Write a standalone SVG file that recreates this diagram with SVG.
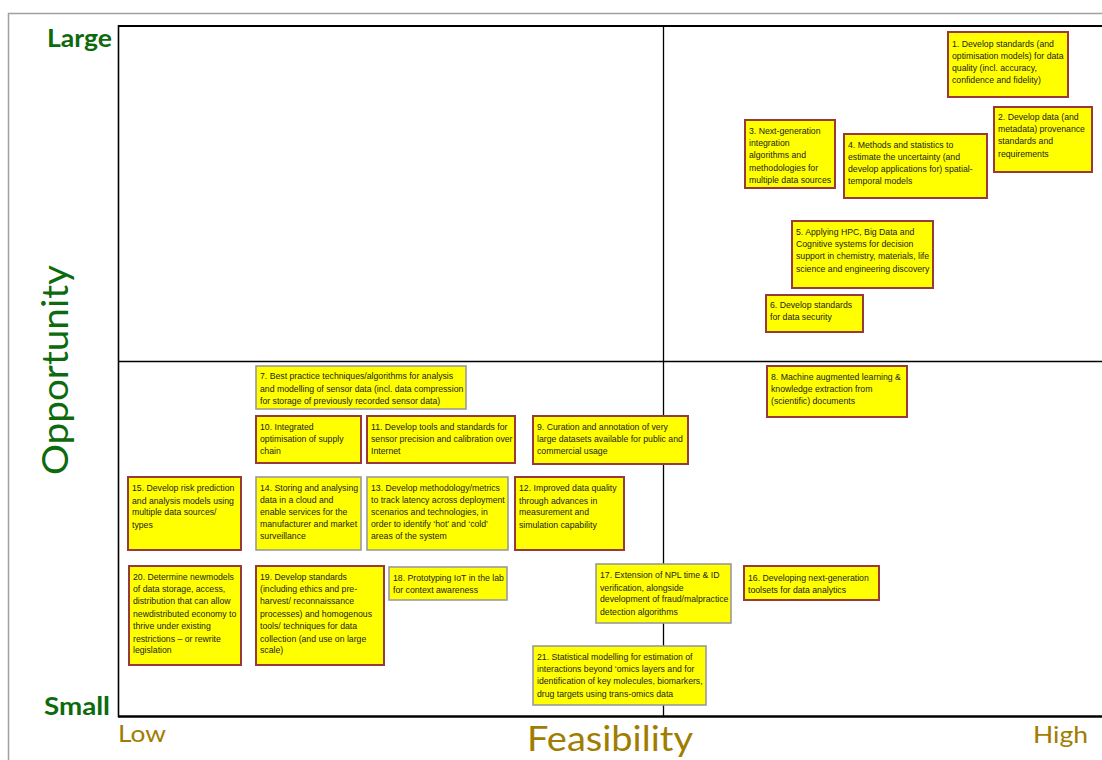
<svg xmlns="http://www.w3.org/2000/svg" width="1102" height="760" viewBox="0 0 1102 760">
<style>
.red{fill:#ffff00;stroke:#993939;stroke-width:2}
.gray{fill:#ffff00;stroke:#9a9a9a;stroke-width:1.6}
.t{font-family:"Liberation Sans",Arial,sans-serif;font-size:8.7px;fill:#222}
.ax{stroke:#000;fill:none}
.op{font-family:Lato,"Open Sans",sans-serif;fill:#0d6a0d}
.fe{font-family:Lato,"Open Sans",sans-serif;fill:#a07d00}
</style>
<rect width="1102" height="760" fill="#fff"/>
<g id="axes">
<path d="M8.5,760 V13.5 H1102" fill="none" stroke="#a0a0a0" stroke-width="1.5"/>
<path class="ax" d="M118,26 H1102" stroke-width="2"/>
<path class="ax" d="M118.5,25 V717" stroke-width="1.6"/>
<path class="ax" d="M118,716.5 H1102" stroke-width="2.5"/>
<path class="ax" d="M663.5,26 V716" stroke-width="1.3"/>
<path class="ax" d="M118,361.5 H1102" stroke-width="1.3"/>
<text class="op" x="47" y="47" font-size="24" font-weight="bold" textLength="65" lengthAdjust="spacingAndGlyphs">Large</text>
<text class="op" x="44" y="715" font-size="24" font-weight="bold" textLength="66" lengthAdjust="spacingAndGlyphs">Small</text>
<text class="op" transform="translate(68,370) rotate(-90)" text-anchor="middle" font-size="36" textLength="210" lengthAdjust="spacingAndGlyphs">Opportunity</text>
<text class="fe" x="118" y="742" font-size="24" textLength="48" lengthAdjust="spacingAndGlyphs">Low</text>
<text class="fe" x="527" y="751" font-size="35" textLength="166" lengthAdjust="spacingAndGlyphs">Feasibility</text>
<text class="fe" x="1033" y="743" font-size="24" textLength="55" lengthAdjust="spacingAndGlyphs">High</text>
</g>
<g id="connectors"></g>
<g id="n1"><rect class="red" x="948" y="32" width="120" height="65"/><text class="t" y="46.5"><tspan x="952">1. Develop standards (and</tspan><tspan x="952" dy="12.2">optimisation models) for data</tspan><tspan x="952" dy="12.2">quality (incl. accuracy,</tspan><tspan x="952" dy="12.2">confidence and fidelity)</tspan></text></g>
<g id="n2"><rect class="red" x="994" y="107" width="98" height="65"/><text class="t" y="120"><tspan x="998">2. Develop data (and</tspan><tspan x="998" dy="12.2">metadata) provenance</tspan><tspan x="998" dy="12.2">standards and</tspan><tspan x="998" dy="12.2">requirements</tspan></text></g>
<g id="n3"><rect class="red" x="745" y="120" width="90" height="68"/><text class="t" y="134"><tspan x="749">3. Next-generation</tspan><tspan x="749" dy="12.2">integration</tspan><tspan x="749" dy="12.2">algorithms and</tspan><tspan x="749" dy="12.2">methodologies for</tspan><tspan x="749" dy="12.2">multiple data sources</tspan></text></g>
<g id="n4"><rect class="red" x="844" y="134" width="143" height="64"/><text class="t" y="147.5"><tspan x="848">4. Methods and statistics to</tspan><tspan x="848" dy="12.2">estimate the uncertainty (and</tspan><tspan x="848" dy="12.2">develop applications for) spatial-</tspan><tspan x="848" dy="12.2">temporal models</tspan></text></g>
<g id="n5"><rect class="red" x="792" y="221" width="141" height="67"/><text class="t" y="235"><tspan x="796">5. Applying HPC, Big Data and</tspan><tspan x="796" dy="12.2">Cognitive systems for decision</tspan><tspan x="796" dy="12.2">support in chemistry, materials, life</tspan><tspan x="796" dy="12.2">science and engineering discovery</tspan></text></g>
<g id="n6"><rect class="red" x="766" y="295" width="97" height="37"/><text class="t" y="308"><tspan x="770">6. Develop standards</tspan><tspan x="770" dy="12.2">for data security</tspan></text></g>
<g id="n7"><rect class="gray" x="256" y="366" width="210" height="43"/><text class="t" y="379"><tspan x="260">7. Best practice techniques/algorithms for analysis</tspan><tspan x="260" dy="12.5">and modelling of sensor data (incl. data compression</tspan><tspan x="260" dy="12.5">for storage of previously recorded sensor data)</tspan></text></g>
<g id="n8"><rect class="red" x="767" y="366" width="140" height="51"/><text class="t" y="380"><tspan x="771">8. Machine augmented learning &amp;</tspan><tspan x="771" dy="12.2">knowledge extraction from</tspan><tspan x="771" dy="12.2">(scientific) documents</tspan></text></g>
<g id="n9"><rect class="red" x="533" y="416" width="155" height="48"/><text class="t" y="430"><tspan x="537">9. Curation and annotation of very</tspan><tspan x="537" dy="12.2">large datasets available for public and</tspan><tspan x="537" dy="12.2">commercial usage</tspan></text></g>
<g id="n10"><rect class="red" x="256" y="416" width="105" height="47"/><text class="t" y="430"><tspan x="260">10. Integrated</tspan><tspan x="260" dy="12.2">optimisation of supply</tspan><tspan x="260" dy="12.2">chain</tspan></text></g>
<g id="n11"><rect class="red" x="367" y="416" width="148" height="47"/><text class="t" y="430"><tspan x="371">11. Develop tools and standards for</tspan><tspan x="371" dy="12.2">sensor precision and calibration over</tspan><tspan x="371" dy="12.2">Internet</tspan></text></g>
<g id="n15"><rect class="red" x="128" y="477" width="113" height="73"/><text class="t" y="490.5"><tspan x="132">15. Develop risk prediction</tspan><tspan x="132" dy="13">and analysis models using</tspan><tspan x="132" dy="11.5">multiple data sources/</tspan><tspan x="132" dy="13.2">types</tspan></text></g>
<g id="n14"><rect class="gray" x="256" y="477" width="105" height="73"/><text class="t" y="490.5"><tspan x="260">14. Storing and analysing</tspan><tspan x="260" dy="12.2">data in a cloud and</tspan><tspan x="260" dy="12.2">enable services for the</tspan><tspan x="260" dy="12.2">manufacturer and market</tspan><tspan x="260" dy="12.2">surveillance</tspan></text></g>
<g id="n13"><rect class="gray" x="367" y="477" width="141" height="73"/><text class="t" y="490.5"><tspan x="371">13. Develop methodology/metrics</tspan><tspan x="371" dy="12.2">to track latency across deployment</tspan><tspan x="371" dy="12.2">scenarios and technologies, in</tspan><tspan x="371" dy="12.2">order to identify ‘hot’ and ‘cold’</tspan><tspan x="371" dy="12.2">areas of the system</tspan></text></g>
<g id="n12"><rect class="red" x="515" y="477" width="109" height="73"/><text class="t" y="490.5"><tspan x="519">12. Improved data quality</tspan><tspan x="519" dy="13">through advances in</tspan><tspan x="519" dy="11.5">measurement and</tspan><tspan x="519" dy="13.2">simulation capability</tspan></text></g>
<g id="n20"><rect class="red" x="129" y="566" width="112" height="99"/><text class="t" y="580"><tspan x="133">20. Determine newmodels</tspan><tspan x="133" dy="12.4">of data storage, access,</tspan><tspan x="133" dy="11.6">distribution that can allow</tspan><tspan x="133" dy="12.6">newdistributed economy to</tspan><tspan x="133" dy="12">thrive under existing</tspan><tspan x="133" dy="13.4">restrictions – or rewrite</tspan><tspan x="133" dy="11">legislation</tspan></text></g>
<g id="n19"><rect class="red" x="256" y="566" width="128" height="99"/><text class="t" y="580"><tspan x="260">19. Develop standards</tspan><tspan x="260" dy="12.4">(including ethics and pre-</tspan><tspan x="260" dy="11.6">harvest/ reconnaissance</tspan><tspan x="260" dy="12.6">processes) and homogenous</tspan><tspan x="260" dy="12">tools/ techniques for data</tspan><tspan x="260" dy="13.4">collection (and use on large</tspan><tspan x="260" dy="11">scale)</tspan></text></g>
<g id="n18"><rect class="gray" x="389" y="567" width="118" height="33"/><text class="t" y="581"><tspan x="393">18. Prototyping IoT in the lab</tspan><tspan x="393" dy="12">for context awareness</tspan></text></g>
<g id="n17"><rect class="gray" x="596" y="564" width="135" height="59"/><text class="t" y="577.5"><tspan x="600">17. Extension of NPL time &amp; ID</tspan><tspan x="600" dy="13.2">verification, alongside</tspan><tspan x="600" dy="11.3">development of fraud/malpractice</tspan><tspan x="600" dy="13.3">detection algorithms</tspan></text></g>
<g id="n16"><rect class="red" x="744" y="566" width="135" height="34"/><text class="t" y="581"><tspan x="748">16. Developing next-generation</tspan><tspan x="748" dy="12">toolsets for data analytics</tspan></text></g>
<g id="n21"><rect class="gray" x="533" y="646" width="173" height="59"/><text class="t" y="660"><tspan x="537">21. Statistical modelling for estimation of</tspan><tspan x="537" dy="12.2">interactions beyond ‘omics layers and for</tspan><tspan x="537" dy="12.2">identification of key molecules, biomarkers,</tspan><tspan x="537" dy="12.2">drug targets using trans-omics data</tspan></text></g>
</svg>
